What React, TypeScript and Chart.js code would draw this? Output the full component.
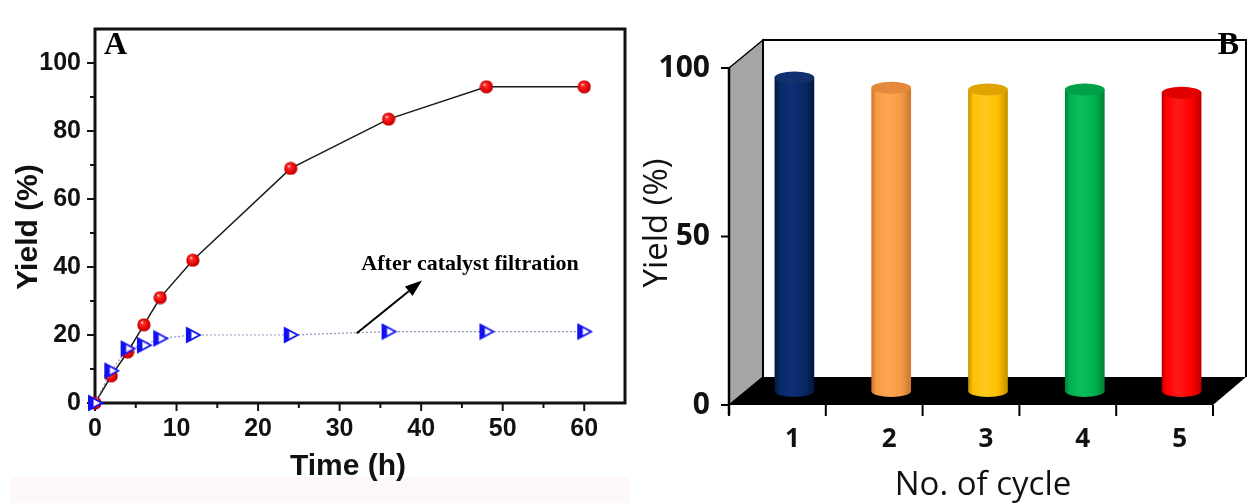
import React, { useEffect, useRef } from 'react';
import { Chart, registerables } from 'chart.js';

Chart.register(...registerables);

// ---------- Panel A data ----------
const TIME_H = [0, 2, 4, 6, 8, 12, 24, 36, 48, 60];
const YIELD_WITH_CAT = [0, 8, 15, 23, 31, 42, 69, 83.5, 93, 93];
const YIELD_AFTER_FILT = [0, 9.5, 16, 17, 19, 20, 20, 21, 21, 21];
const A_X_TICKS = [0, 10, 20, 30, 40, 50, 60];
const A_X_MINOR = [5, 15, 25, 35, 45, 55];
const A_Y_TICKS = [0, 20, 40, 60, 80, 100];
const A_Y_MINOR = [10, 30, 50, 70, 90];
const ANNOT_TEXT = 'After catalyst filtration';
const ANNOT_TEXT_POS = { x: 46, y: 40.7 };
const ARROW_FROM = { x: 32.1, y: 20.5 };
const ARROW_TO = { x: 40.1, y: 36 };

// ---------- Panel B data ----------
const CYCLES = ['1', '2', '3', '4', '5'];
const REUSE_YIELD = [93, 90, 89.5, 89.5, 88.5];
const B_Y_TICKS = [0, 50, 100];
const CYL_COLORS = [
  { edge: '#041640', light: '#0e2f78', mid: '#0a2866', top: '#11306f' },
  { edge: '#c8762e', light: '#ffa650', mid: '#f89a46', top: '#e58a3c' },
  { edge: '#c18f00', light: '#ffc820', mid: '#ffc000', top: '#dfa400' },
  { edge: '#008236', light: '#0cc05c', mid: '#00b050', top: '#00a048' },
  { edge: '#b80000', light: '#ff1a1a', mid: '#ff0000', top: '#e00000' },
];

const SANS = "'Liberation Sans', Arial, sans-serif";
const SERIF = "'Liberation Serif', 'Times New Roman', serif";
const B_YTICK_FONT = "'Liberation Sans Narrow', 'Open Sans', sans-serif";
const B_XTICK_FONT = "'Open Sans', sans-serif";
const B_TITLE_FONT = "'Open Sans', sans-serif";

function makeSphere(): HTMLCanvasElement {
  const c = document.createElement('canvas');
  c.width = 14;
  c.height = 14;
  const g = c.getContext('2d')!;
  const grad = g.createRadialGradient(5, 4.5, 0.3, 7, 7, 7);
  grad.addColorStop(0, '#ffe0e0');
  grad.addColorStop(0.2, '#ff3030');
  grad.addColorStop(0.75, '#e00000');
  grad.addColorStop(1, '#a00000');
  g.fillStyle = grad;
  g.beginPath();
  g.arc(7, 7, 6.6, 0, Math.PI * 2);
  g.fill();
  return c;
}

function makeTriangle(): HTMLCanvasElement {
  const c = document.createElement('canvas');
  c.width = 18;
  c.height = 18;
  const g = c.getContext('2d')!;
  g.fillStyle = 'rgba(255,255,255,0.9)';
  g.strokeStyle = '#1010f0';
  g.lineWidth = 1.8;
  g.beginPath();
  g.moveTo(3, 2);
  g.lineTo(16, 9);
  g.lineTo(3, 16);
  g.closePath();
  g.fill();
  g.stroke();
  g.fillStyle = '#1010f0';
  g.beginPath();
  g.moveTo(2.2, 1.5);
  g.lineTo(7.5, 4.4);
  g.lineTo(7.5, 13.6);
  g.lineTo(2.2, 16.5);
  g.closePath();
  g.fill();
  return c;
}

function PanelA() {
  const ref = useRef<HTMLCanvasElement>(null);
  useEffect(() => {
    if (!ref.current) return;
    const sphere = makeSphere();
    const tri = makeTriangle();
    const plugin = {
      id: 'panelA',
      beforeDraw(chart: any) {
        const ctx = chart.ctx;
        ctx.save();
        ctx.fillStyle = '#fef7f7';
        ctx.fillRect(10, 477, 620, 26);
        ctx.restore();
      },
      beforeDatasetsDraw(chart: any) {
        const ctx = chart.ctx;
        const { left, right, top, bottom } = chart.chartArea;
        const xs = chart.scales.x;
        const ys = chart.scales.y;
        ctx.save();
        ctx.strokeStyle = '#111';
        ctx.lineWidth = 2;
        const tick = (x1: number, y1: number, x2: number, y2: number) => {
          ctx.beginPath();
          ctx.moveTo(x1, y1);
          ctx.lineTo(x2, y2);
          ctx.stroke();
        };
        A_X_TICKS.forEach((v) => { const p = xs.getPixelForValue(v); tick(p, bottom, p, bottom + 8); });
        A_X_MINOR.forEach((v) => { const p = xs.getPixelForValue(v); tick(p, bottom, p, bottom + 5); });
        A_Y_TICKS.forEach((v) => { const p = ys.getPixelForValue(v); tick(left - 8, p, left, p); });
        A_Y_MINOR.forEach((v) => { const p = ys.getPixelForValue(v); tick(left - 5, p, left, p); });
        ctx.lineWidth = 3;
        ctx.strokeRect(left, top, right - left, bottom - top);
        ctx.restore();
      },
      afterDatasetsDraw(chart: any) {
        const ctx = chart.ctx;
        const xs = chart.scales.x;
        const ys = chart.scales.y;
        ctx.save();
        // arrow
        const x1 = xs.getPixelForValue(ARROW_FROM.x);
        const y1 = ys.getPixelForValue(ARROW_FROM.y);
        const x2 = xs.getPixelForValue(ARROW_TO.x);
        const y2 = ys.getPixelForValue(ARROW_TO.y);
        const ang = Math.atan2(y2 - y1, x2 - x1);
        const hl = 17;
        const hw = 6;
        const bx = x2 - hl * Math.cos(ang);
        const by = y2 - hl * Math.sin(ang);
        ctx.strokeStyle = '#000';
        ctx.fillStyle = '#000';
        ctx.lineWidth = 2;
        ctx.beginPath();
        ctx.moveTo(x1, y1);
        ctx.lineTo(bx, by);
        ctx.stroke();
        ctx.beginPath();
        ctx.moveTo(x2, y2);
        ctx.lineTo(bx + hw * Math.sin(ang), by - hw * Math.cos(ang));
        ctx.lineTo(bx - hw * Math.sin(ang), by + hw * Math.cos(ang));
        ctx.closePath();
        ctx.fill();
        // annotation text
        ctx.font = `bold 22px ${SERIF}`;
        ctx.textAlign = 'center';
        ctx.textBaseline = 'middle';
        ctx.fillText(ANNOT_TEXT, xs.getPixelForValue(ANNOT_TEXT_POS.x), ys.getPixelForValue(ANNOT_TEXT_POS.y));
        // panel letter
        ctx.font = `bold 32px ${SERIF}`;
        ctx.textAlign = 'left';
        ctx.textBaseline = 'alphabetic';
        ctx.fillText('A', 104, 54);
        // axis titles
        ctx.fillStyle = '#111';
        ctx.font = `bold 30px ${SANS}`;
        ctx.textAlign = 'center';
        ctx.fillText('Time (h)', 348, 475);
        ctx.translate(37, 227);
        ctx.rotate(-Math.PI / 2);
        ctx.fillText('Yield (%)', 0, 0);
        ctx.restore();
      },
    };
    const chart = new Chart(ref.current, {
      type: 'line',
      data: {
        datasets: [
          {
            label: 'With catalyst',
            data: TIME_H.map((t, i) => ({ x: t, y: YIELD_WITH_CAT[i] })),
            borderColor: '#1a1a1a',
            borderWidth: 1.5,
            pointStyle: sphere as any,
            pointRadius: 7,
            tension: 0,
            clip: false as any,
            order: 2,
          },
          {
            label: 'After catalyst filtration',
            data: TIME_H.map((t, i) => ({ x: t, y: YIELD_AFTER_FILT[i] })),
            borderColor: '#8d98b5',
            borderDash: [2, 2],
            borderWidth: 1.2,
            pointStyle: tri as any,
            pointRadius: 8,
            tension: 0,
            clip: false as any,
            order: 1,
          },
        ],
      },
      options: {
        responsive: false,
        animation: false,
        layout: { padding: { top: 15, right: 15, left: 0, bottom: 0 } },
        plugins: { legend: { display: false }, tooltip: { enabled: false } },
        scales: {
          x: {
            type: 'linear',
            min: 0,
            max: 65,
            afterFit(s: any) { s.height = 100; },
            afterBuildTicks(s: any) { s.ticks = A_X_TICKS.map((v) => ({ value: v })); },
            grid: { display: false, drawTicks: false },
            border: { display: false },
            ticks: { padding: 11, color: '#111', font: { family: SANS, size: 25, weight: 'bold' } },
          },
          y: {
            type: 'linear',
            min: 0,
            max: 110,
            afterFit(s: any) { s.width = 95; },
            afterBuildTicks(s: any) { s.ticks = A_Y_TICKS.map((v) => ({ value: v })); },
            grid: { display: false, drawTicks: false },
            border: { display: false },
            ticks: { padding: 14, color: '#111', font: { family: SANS, size: 25, weight: 'bold' } },
          },
        },
      },
      plugins: [plugin],
    } as any);
    return () => chart.destroy();
  }, []);
  return <canvas ref={ref} width={640} height={503} style={{ position: 'absolute', left: 0, top: 0 }} />;
}

const DX = 17;
const DY = 14;

function drawCylinder(ctx: CanvasRenderingContext2D, cx: number, top: number, base: number, w: number, col: any) {
  const rx = w / 2;
  const ry = 6;
  const g = ctx.createLinearGradient(cx - rx, 0, cx + rx, 0);
  g.addColorStop(0, col.edge);
  g.addColorStop(0.12, col.mid);
  g.addColorStop(0.4, col.light);
  g.addColorStop(0.75, col.mid);
  g.addColorStop(1, col.edge);
  ctx.fillStyle = g;
  ctx.beginPath();
  ctx.moveTo(cx - rx, top);
  ctx.lineTo(cx - rx, base);
  ctx.ellipse(cx, base, rx, ry, 0, Math.PI, 0, true);
  ctx.lineTo(cx + rx, top);
  ctx.closePath();
  ctx.fill();
  ctx.fillStyle = col.top;
  ctx.beginPath();
  ctx.ellipse(cx, top, rx, ry, 0, 0, Math.PI * 2);
  ctx.fill();
}

function PanelB() {
  const ref = useRef<HTMLCanvasElement>(null);
  useEffect(() => {
    if (!ref.current) return;
    const plugin = {
      id: 'panelB',
      beforeDatasetsDraw(chart: any) {
        const ctx = chart.ctx;
        const { left: L, right: R } = chart.chartArea;
        const xs = chart.scales.x;
        const ys = chart.scales.y;
        const y0 = ys.getPixelForValue(0);
        const y1 = ys.getPixelForValue(100);
        ctx.save();
        ctx.strokeStyle = '#000';
        ctx.lineJoin = 'miter';
        // side wall
        ctx.fillStyle = '#a6a6a6';
        ctx.lineWidth = 1.5;
        ctx.beginPath();
        ctx.moveTo(L - DX, y0 + DY);
        ctx.lineTo(L - DX, y1 + DY);
        ctx.lineTo(L + DX, y1 - DY);
        ctx.lineTo(L + DX, y0 - DY);
        ctx.closePath();
        ctx.fill();
        ctx.stroke();
        // back wall border
        ctx.lineWidth = 2;
        ctx.beginPath();
        ctx.moveTo(L + DX, y0 - DY);
        ctx.lineTo(L + DX, y1 - DY);
        ctx.lineTo(R + DX - 1, y1 - DY);
        ctx.lineTo(R + DX - 1, y0 - DY);
        ctx.stroke();
        // floor
        ctx.fillStyle = '#000';
        ctx.beginPath();
        ctx.moveTo(L - DX, y0 + DY);
        ctx.lineTo(L + DX, y0 - DY);
        ctx.lineTo(R + DX - 1, y0 - DY);
        ctx.lineTo(R - DX, y0 + DY);
        ctx.closePath();
        ctx.fill();
        // front y-axis
        ctx.lineWidth = 2.5;
        ctx.beginPath();
        ctx.moveTo(L - DX, y1 + DY);
        ctx.lineTo(L - DX, y0 + DY + 10);
        ctx.stroke();
        ctx.lineWidth = 2;
        B_Y_TICKS.forEach((v) => {
          const p = ys.getPixelForValue(v) + DY;
          ctx.beginPath();
          ctx.moveTo(L - DX - 8, p);
          ctx.lineTo(L - DX, p);
          ctx.stroke();
        });
        for (let i = 0; i <= CYCLES.length; i++) {
          const bx = xs.getPixelForValue(i - 0.5) - DX;
          ctx.beginPath();
          ctx.moveTo(bx, y0 + DY);
          ctx.lineTo(bx, y0 + DY + 11);
          ctx.stroke();
        }
        ctx.restore();
      },
      afterDatasetsDraw(chart: any) {
        const ctx = chart.ctx;
        const meta = chart.getDatasetMeta(0);
        ctx.save();
        meta.data.forEach((bar: any, i: number) => {
          const p = bar.getProps(['x', 'y', 'base', 'width'], true);
          drawCylinder(ctx, p.x, p.y, p.base, p.width, CYL_COLORS[i]);
        });
        ctx.fillStyle = '#000';
        ctx.font = `bold 32px ${SERIF}`;
        ctx.textAlign = 'right';
        ctx.textBaseline = 'alphabetic';
        ctx.fillText('B', 599, 54);
        ctx.fillStyle = '#111';
        ctx.font = `33px ${B_TITLE_FONT}`;
        ctx.textAlign = 'center';
        ctx.fillText('No. of cycle', 343, 495);
        ctx.translate(27, 223);
        ctx.rotate(-Math.PI / 2);
        ctx.fillText('Yield (%)', 0, 0);
        ctx.restore();
      },
    };
    const chart = new Chart(ref.current, {
      type: 'bar',
      data: {
        labels: CYCLES,
        datasets: [
          {
            label: 'Yield',
            data: REUSE_YIELD,
            backgroundColor: 'rgba(0,0,0,0)',
            borderWidth: 0,
            barPercentage: 0.41,
            categoryPercentage: 1,
          },
        ],
      },
      options: {
        responsive: false,
        animation: false,
        layout: { padding: { top: 30, right: 18, left: 0, bottom: 0 } },
        plugins: { legend: { display: false }, tooltip: { enabled: false } },
        scales: {
          x: {
            afterFit(s: any) { s.height = 112; },
            grid: { display: false, drawTicks: false },
            border: { display: false },
            ticks: { padding: 33, labelOffset: -2, color: '#111', font: { family: B_XTICK_FONT, size: 26, weight: 'bold' } },
          },
          y: {
            min: 0,
            max: 100,
            afterFit(s: any) { s.width = 106; },
            afterBuildTicks(s: any) { s.ticks = B_Y_TICKS.map((v) => ({ value: v })); },
            grid: { display: false, drawTicks: false },
            border: { display: false },
            ticks: { padding: 36, labelOffset: DY, color: '#111', font: { family: B_YTICK_FONT, size: 30, weight: 'bold' } },
          },
        },
      },
      plugins: [plugin],
    } as any);
    return () => chart.destroy();
  }, []);
  return <canvas ref={ref} width={608} height={503} style={{ position: 'absolute', left: 640, top: 0 }} />;
}

export default function App() {
  return (
    <div style={{ position: 'fixed', left: 0, top: 0, width: 1248, height: 503, background: '#fff', overflow: 'hidden' }}>
      <PanelA />
      <PanelB />
    </div>
  );
}
